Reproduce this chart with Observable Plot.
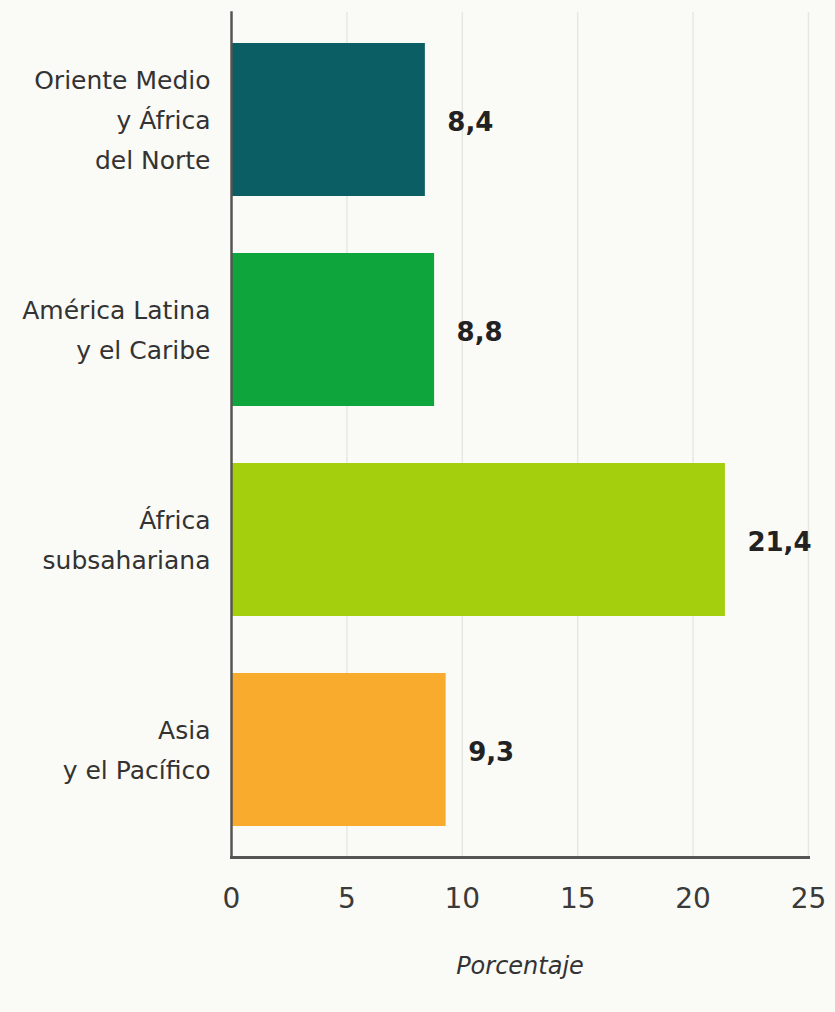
<!DOCTYPE html>
<html>
<head>
<meta charset="utf-8">
<script src="https://cdn.jsdelivr.net/npm/d3@7"></script>
<script src="https://cdn.jsdelivr.net/npm/@observablehq/plot@0.6"></script>
<style>
  html, body { margin: 0; padding: 0; background: #fafaf6; }
  #chart svg { display: block; }
</style>
</head>
<body>
<div id="chart"></div>
<script>
const regiones = [
  "Oriente Medio\ny África\ndel Norte",
  "América Latina\ny el Caribe",
  "África\nsubsahariana",
  "Asia\ny el Pacífico"
];
const porcentajes = [8.4, 8.8, 21.4, 9.3];
const etiquetasValor = ["8,4", "8,8", "21,4", "9,3"];
const colores = ["#0b5e63", "#0fa53d", "#a3cf0d", "#f9ab2e"];
const xTicks = [0, 5, 10, 15, 20, 25];
const ejeXTitulo = "Porcentaje";

const data = regiones.map((r, i) => ({ region: r, value: porcentajes[i], label: etiquetasValor[i] }));

const chart = Plot.plot({
  width: 835,
  height: 1012,
  marginLeft: 231,
  marginRight: 27,
  marginTop: 12,
  marginBottom: 155,
  style: { fontFamily: "DejaVu Sans", background: "#fafaf6", color: "#333" },
  x: { domain: [0, 25], ticks: xTicks },
  y: { domain: regiones, paddingInner: 0.27, paddingOuter: 0.14, axis: null },
  color: { domain: regiones, range: colores },
  marks: [
    Plot.ruleX(xTicks.slice(1), { stroke: "#e8e8e2", strokeWidth: 1.5 }),
    Plot.barX(data, { y: "region", x: "value", fill: "region" }),
    Plot.text(data, { x: 0, y: "region", text: "region", textAnchor: "end", dx: -21, dy: -4, fontSize: 25, lineHeight: 1.6, fill: "#333" }),
    Plot.text(data, { x: "value", y: "region", text: "label", textAnchor: "start", dx: 22, dy: 3, fontSize: 26, fontWeight: "bold", fill: "#222" }),
    Plot.axisX(xTicks, { tickSize: 0, tickPadding: 31, fontSize: 28, fill: "#3a3a3a", label: null }),
    Plot.frame({ anchor: "left", stroke: "#555", strokeWidth: 2.5 }),
    Plot.frame({ anchor: "bottom", stroke: "#555", strokeWidth: 3 }),
    Plot.text([ejeXTitulo], { frameAnchor: "bottom", dy: 116, fontSize: 24, fontStyle: "italic", fill: "#333" })
  ]
});
document.getElementById("chart").appendChild(chart);
</script>
</body>
</html>
